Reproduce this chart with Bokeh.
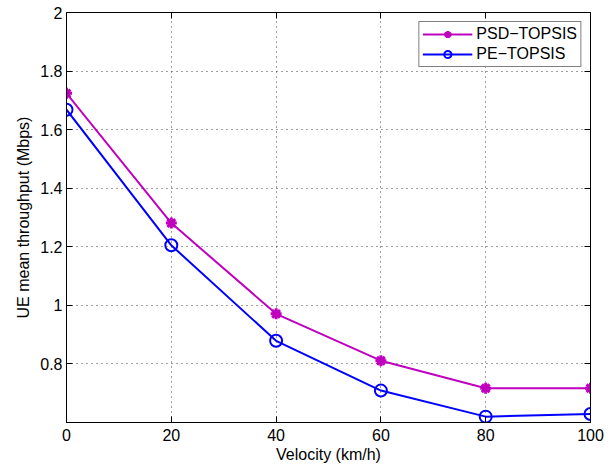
from bokeh.plotting import figure
from bokeh.models import Range1d, FixedTicker, LinearAxis, Legend, LegendItem, CustomJSTickFormatter
from bokeh.embed import file_html
from bokeh.resources import INLINE

velocity = [0, 20, 40, 60, 80, 100]
psd_topsis = [1.724, 1.281, 0.971, 0.811, 0.717, 0.717]
pe_topsis = [1.668, 1.205, 0.879, 0.709, 0.620, 0.629]

x_ticks = [0, 20, 40, 60, 80, 100]
y_ticks = [0.8, 1, 1.2, 1.4, 1.6, 1.8, 2]
y_tick_labels = ["0.8", "1", "1.2", "1.4", "1.6", "1.8", "2"]

FONT = "Liberation Sans"
MAGENTA = "#BF00BF"
BLUE = "#0000FF"

p = figure(width=605, height=465, x_range=Range1d(0, 100), y_range=Range1d(0.6, 2),
           output_backend="svg", toolbar_location=None,
           min_border_left=66, min_border_right=15, min_border_top=12, min_border_bottom=40)
p.background_fill_color = "white"
p.border_fill_color = "white"
p.outline_line_color = "black"
p.outline_line_width = 1
p.outline_line_alpha = 1

def style_axis(ax, ticks, show_labels=True):
    ax.ticker = FixedTicker(ticks=ticks)
    ax.major_tick_in = 6
    ax.major_tick_out = 0
    ax.minor_tick_line_color = None
    ax.axis_line_color = "black"
    ax.major_tick_line_color = "black"
    ax.major_label_text_font = FONT
    ax.major_label_text_color = "black"
    ax.major_label_text_font_size = "16px"
    if not show_labels:
        ax.formatter = CustomJSTickFormatter(code="return ''")
        ax.major_label_standoff = 0

style_axis(p.xaxis[0], x_ticks)
p.xaxis[0].major_label_standoff = 6
p.xaxis[0].axis_label = "Velocity (km/h)"
p.xaxis[0].axis_label_standoff = 2
style_axis(p.yaxis[0], y_ticks)
p.yaxis[0].major_label_standoff = 4
p.yaxis[0].major_label_overrides = dict(zip(y_ticks, y_tick_labels))
p.yaxis[0].axis_label = "UE mean throughput (Mbps)"
p.yaxis[0].axis_label_standoff = 5
for ax in (p.xaxis[0], p.yaxis[0]):
    ax.axis_label_text_font = FONT
    ax.axis_label_text_font_size = "16px"
    ax.axis_label_text_font_style = "normal"
    ax.axis_label_text_color = "black"

right_ax = LinearAxis()
style_axis(right_ax, y_ticks, show_labels=False)
p.add_layout(right_ax, "right")
top_ax = LinearAxis()
style_axis(top_ax, x_ticks, show_labels=False)
p.add_layout(top_ax, "above")

p.xgrid.ticker = FixedTicker(ticks=x_ticks)
p.ygrid.ticker = FixedTicker(ticks=y_ticks)
for g in (p.xgrid, p.ygrid):
    g.grid_line_color = "black"
    g.grid_line_alpha = 0.75
    g.grid_line_dash = "1 4"
    g.grid_line_width = 1

l1 = p.line(velocity, psd_topsis, line_color=MAGENTA, line_width=2)
m1 = p.scatter(velocity, psd_topsis, marker="asterisk", size=11, line_color=MAGENTA, line_width=3)
l2 = p.line(velocity, pe_topsis, line_color=BLUE, line_width=2)
m2 = p.scatter(velocity, pe_topsis, marker="circle", size=12, line_color=BLUE, fill_color=None, line_width=2)

legend = Legend(items=[LegendItem(label="PSD\u2212TOPSIS", renderers=[l1, m1]),
                       LegendItem(label="PE\u2212TOPSIS", renderers=[l2, m2])],
                location="top_right")
legend.border_line_color = "black"
legend.border_line_width = 1
legend.background_fill_color = "white"
legend.background_fill_alpha = 1
legend.label_text_font = FONT
legend.label_text_font_size = "16px"
legend.label_text_color = "black"
legend.glyph_width = 50
legend.glyph_height = 18
legend.label_height = 18
legend.spacing = 2
legend.padding = 3
legend.margin = 9
legend.label_standoff = 4
p.add_layout(legend)

open("out.html", "w").write(file_html(p, INLINE))
